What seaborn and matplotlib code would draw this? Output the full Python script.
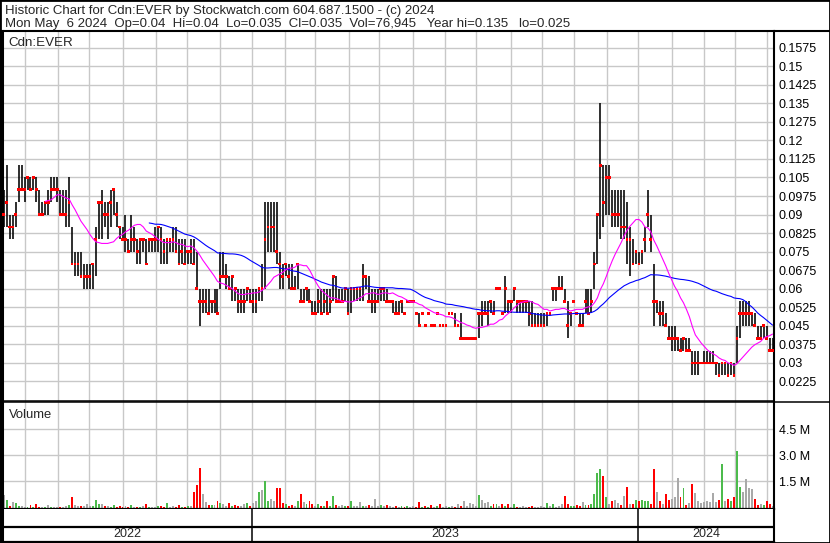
import numpy as np
import pandas as pd
import matplotlib
matplotlib.use('Agg')
import matplotlib.pyplot as plt
from matplotlib.lines import Line2D
import seaborn as sns

# one bar for every second trading day, May 2022 -> May 6 2024
high = [0.10, 0.11, 0.09, 0.09, 0.095, 0.11, 0.11, 0.105, 0.105, 0.105,
        0.105, 0.105, 0.10, 0.095, 0.095, 0.10, 0.105, 0.105, 0.105, 0.10,
        0.10, 0.10, 0.105, 0.085, 0.075, 0.075, 0.075, 0.07, 0.07, 0.07,
        0.07, 0.085, 0.095, 0.10, 0.095, 0.095, 0.10, 0.10, 0.095, 0.085,
        0.085, 0.09, 0.08, 0.09, 0.085, 0.08, 0.08, 0.08, 0.08, 0.08,
        0.08, 0.085, 0.085, 0.085, 0.08, 0.08, 0.08, 0.085, 0.085, 0.08,
        0.08, 0.08, 0.075, 0.08, 0.08, 0.075, 0.06, 0.06, 0.06, 0.06,
        0.055, 0.06, 0.06, 0.075, 0.075, 0.07, 0.065, 0.065, 0.06, 0.06,
        0.06, 0.06, 0.06, 0.06, 0.06, 0.06, 0.06, 0.07, 0.095, 0.095,
        0.095, 0.095, 0.095, 0.075, 0.07, 0.07, 0.07, 0.07, 0.065, 0.07,
        0.06, 0.06, 0.06, 0.06, 0.055, 0.055, 0.06, 0.06, 0.06, 0.06,
        0.06, 0.065, 0.065, 0.06, 0.06, 0.06, 0.06, 0.06, 0.06, 0.06,
        0.06, 0.07, 0.065, 0.065, 0.06, 0.06, 0.06, 0.06, 0.06, 0.06,
        0.055, 0.055, 0.055, 0.055, 0.055, 0.05, 0.055, 0.055, 0.055, 0.05,
        0.05, 0.05, 0.045, 0.05, 0.045, 0.045, 0.05, 0.045, 0.045, 0.045,
        0.05, 0.05, 0.05, 0.045, 0.05, 0.04, 0.04, 0.04, 0.04, 0.04,
        0.05, 0.055, 0.055, 0.055, 0.055, 0.055, 0.06, 0.06, 0.05, 0.065,
        0.055, 0.055, 0.06, 0.055, 0.055, 0.055, 0.055, 0.055, 0.055, 0.05,
        0.05, 0.05, 0.05, 0.05, 0.05, 0.06, 0.06, 0.065, 0.065, 0.06,
        0.055, 0.05, 0.055, 0.05, 0.05, 0.05, 0.06, 0.06, 0.06, 0.075,
        0.09, 0.135, 0.11, 0.11, 0.11, 0.10, 0.10, 0.10, 0.10, 0.10,
        0.095, 0.085, 0.08, 0.075, 0.075, 0.075, 0.085, 0.10, 0.09, 0.07,
        0.055, 0.055, 0.055, 0.05, 0.045, 0.045, 0.045, 0.04, 0.04, 0.04,
        0.04, 0.04, 0.035, 0.035, 0.035, 0.03, 0.035, 0.035, 0.035, 0.035,
        0.03, 0.03, 0.03, 0.03, 0.03, 0.03, 0.03, 0.045, 0.055, 0.055,
        0.055, 0.055, 0.05, 0.05, 0.045, 0.045, 0.045, 0.045, 0.04, 0.04]

low = [0.085, 0.085, 0.08, 0.08, 0.085, 0.095, 0.10, 0.095, 0.10, 0.10,
       0.10, 0.095, 0.09, 0.09, 0.09, 0.09, 0.095, 0.10, 0.095, 0.09,
       0.09, 0.085, 0.085, 0.07, 0.065, 0.065, 0.065, 0.06, 0.06, 0.06,
       0.06, 0.065, 0.08, 0.08, 0.085, 0.08, 0.085, 0.09, 0.085, 0.08,
       0.08, 0.075, 0.075, 0.075, 0.075, 0.07, 0.07, 0.075, 0.07, 0.075,
       0.075, 0.075, 0.075, 0.07, 0.07, 0.07, 0.075, 0.075, 0.075, 0.07,
       0.07, 0.07, 0.07, 0.07, 0.07, 0.06, 0.045, 0.05, 0.05, 0.05,
       0.05, 0.05, 0.05, 0.06, 0.065, 0.06, 0.06, 0.055, 0.055, 0.05,
       0.05, 0.05, 0.055, 0.055, 0.05, 0.05, 0.055, 0.055, 0.06, 0.075,
       0.075, 0.075, 0.07, 0.06, 0.06, 0.065, 0.06, 0.06, 0.06, 0.06,
       0.055, 0.055, 0.055, 0.055, 0.05, 0.05, 0.05, 0.05, 0.05, 0.05,
       0.05, 0.055, 0.055, 0.055, 0.055, 0.055, 0.05, 0.05, 0.055, 0.055,
       0.055, 0.055, 0.06, 0.055, 0.05, 0.05, 0.055, 0.055, 0.055, 0.055,
       0.055, 0.05, 0.05, 0.05, 0.05, 0.05, 0.055, 0.055, 0.055, 0.05,
       0.045, 0.05, 0.045, 0.05, 0.045, 0.045, 0.05, 0.045, 0.045, 0.045,
       0.05, 0.05, 0.045, 0.045, 0.04, 0.04, 0.04, 0.04, 0.04, 0.04,
       0.04, 0.045, 0.05, 0.045, 0.05, 0.05, 0.06, 0.06, 0.05, 0.05,
       0.05, 0.05, 0.055, 0.05, 0.05, 0.05, 0.05, 0.045, 0.045, 0.045,
       0.045, 0.045, 0.045, 0.045, 0.05, 0.055, 0.055, 0.06, 0.06, 0.055,
       0.04, 0.045, 0.055, 0.05, 0.045, 0.045, 0.05, 0.05, 0.05, 0.06,
       0.07, 0.08, 0.085, 0.09, 0.09, 0.085, 0.085, 0.085, 0.08, 0.08,
       0.07, 0.065, 0.07, 0.07, 0.07, 0.07, 0.075, 0.085, 0.075, 0.045,
       0.05, 0.045, 0.045, 0.045, 0.04, 0.035, 0.035, 0.035, 0.035, 0.035,
       0.035, 0.035, 0.025, 0.025, 0.025, 0.03, 0.03, 0.03, 0.03, 0.03,
       0.025, 0.025, 0.025, 0.025, 0.025, 0.025, 0.025, 0.03, 0.04, 0.045,
       0.045, 0.045, 0.045, 0.045, 0.04, 0.04, 0.04, 0.04, 0.035, 0.035]

close = [0.09, 0.095, 0.085, 0.085, 0.09, 0.10, 0.10, 0.10, 0.105, 0.10,
         0.105, 0.10, 0.09, 0.09, 0.095, 0.095, 0.10, 0.10, 0.10, 0.09,
         0.09, 0.09, 0.095, 0.07, 0.07, 0.07, 0.065, 0.065, 0.065, 0.065,
         0.07, 0.08, 0.095, 0.095, 0.09, 0.09, 0.095, 0.10, 0.09, 0.085,
         0.08, 0.08, 0.075, 0.08, 0.08, 0.075, 0.08, 0.08, 0.07, 0.08,
         0.08, 0.08, 0.085, 0.08, 0.075, 0.08, 0.08, 0.08, 0.075, 0.07,
         0.075, 0.07, 0.075, 0.075, 0.07, 0.06, 0.055, 0.055, 0.055, 0.05,
         0.055, 0.055, 0.05, 0.065, 0.065, 0.065, 0.06, 0.065, 0.06, 0.055,
         0.055, 0.055, 0.06, 0.055, 0.055, 0.055, 0.06, 0.06, 0.08, 0.085,
         0.085, 0.085, 0.075, 0.07, 0.065, 0.07, 0.065, 0.06, 0.06, 0.07,
         0.055, 0.055, 0.06, 0.055, 0.05, 0.05, 0.055, 0.05, 0.055, 0.05,
         0.055, 0.065, 0.055, 0.055, 0.055, 0.06, 0.05, 0.06, 0.06, 0.06,
         0.06, 0.065, 0.065, 0.055, 0.055, 0.055, 0.055, 0.06, 0.06, 0.055,
         0.055, 0.055, 0.05, 0.05, 0.055, 0.05, 0.055, 0.055, 0.055, 0.05,
         0.045, 0.05, 0.045, 0.05, 0.045, 0.045, 0.05, 0.045, 0.045, 0.045,
         0.05, 0.05, 0.045, 0.045, 0.04, 0.04, 0.04, 0.04, 0.04, 0.04,
         0.05, 0.05, 0.05, 0.05, 0.055, 0.05, 0.06, 0.06, 0.05, 0.06,
         0.055, 0.055, 0.06, 0.055, 0.055, 0.055, 0.055, 0.05, 0.045, 0.045,
         0.045, 0.045, 0.045, 0.05, 0.05, 0.06, 0.06, 0.06, 0.06, 0.055,
         0.045, 0.05, 0.055, 0.05, 0.045, 0.045, 0.055, 0.05, 0.055, 0.07,
         0.09, 0.11, 0.095, 0.105, 0.105, 0.09, 0.09, 0.09, 0.085, 0.085,
         0.08, 0.08, 0.07, 0.075, 0.07, 0.075, 0.08, 0.09, 0.08, 0.055,
         0.055, 0.05, 0.05, 0.045, 0.04, 0.04, 0.04, 0.04, 0.035, 0.04,
         0.035, 0.035, 0.03, 0.03, 0.03, 0.03, 0.03, 0.03, 0.03, 0.03,
         0.03, 0.025, 0.03, 0.03, 0.025, 0.03, 0.025, 0.04, 0.05, 0.05,
         0.05, 0.05, 0.05, 0.045, 0.04, 0.04, 0.045, 0.04, 0.035, 0.035]

# volume in millions of shares
volume = [0.73, 0.42, 0.1, 0.3, 0.25, 0.1, 0.1, 0.05, 0.05, 0.15,
          0.05, 0.23, 0.05, 0.05, 0.05, 0.15, 0.05, 0.05, 0.05, 0.05,
          0.05, 0.1, 0.15, 0.6, 0.15, 0.1, 0.1, 0.1, 0.23, 0.1,
          0.1, 0.46, 0.2, 0.23, 0.1, 0.1, 0.05, 0.15, 0.05, 0.1,
          0.05, 0.1, 0.05, 0.15, 0.05, 0.05, 0.05, 0.1, 0.23, 0.05,
          0.05, 0.05, 0.1, 0.1, 0.05, 0.27, 0.05, 0.1, 0.05, 0.15,
          0.05, 0.05, 0.1, 0.1, 0.92, 1.3, 2.25, 0.8, 0.3, 0.15,
          0.15, 0.15, 0.38, 0.27, 0.23, 0.1, 0.27, 0.1, 0.15, 0.1,
          0.1, 0.23, 0.27, 0.1, 0.29, 0.35, 0.87, 1.0, 1.54, 0.38,
          0.48, 0.38, 1.1, 1.1, 0.29, 0.2, 0.1, 0.15, 0.1, 0.38,
          0.77, 0.3, 0.2, 0.35, 0.2, 0.1, 0.2, 0.1, 0.1, 0.38,
          0.1, 0.67, 0.15, 0.1, 0.15, 0.1, 0.1, 0.35, 0.1, 0.1,
          0.3, 0.1, 0.1, 0.15, 0.1, 0.5, 0.1, 0.15, 0.1, 0.15,
          0.1, 0.05, 0.1, 0.05, 0.1, 0.05, 0.1, 0.05, 0.1, 0.05,
          0.3, 0.05, 0.1, 0.05, 0.15, 0.05, 0.1, 0.2, 0.05, 0.1,
          0.05, 0.1, 0.05, 0.2, 0.1, 0.35, 0.1, 0.25, 0.2, 0.1,
          0.7, 0.42, 0.27, 0.31, 0.1, 0.23, 0.2, 0.1, 0.2, 0.1,
          0.2, 0.05, 0.2, 0.05, 0.05, 0.1, 0.05, 0.05, 0.1, 0.05,
          0.05, 0.1, 0.05, 0.27, 0.1, 0.2, 0.05, 0.1, 0.2, 0.67,
          0.2, 0.1, 0.1, 0.15, 0.1, 0.31, 0.15, 0.15, 0.2, 0.8,
          2.0, 2.2, 1.83, 0.6, 0.23, 0.38, 0.42, 0.27, 0.15, 0.67,
          1.2, 0.23, 0.23, 0.42, 0.35, 0.42, 0.35, 0.35, 0.23, 2.2,
          0.92, 0.38, 0.2, 0.8, 0.42, 0.48, 0.62, 1.7, 0.58, 1.1,
          0.15, 0.27, 1.38, 0.85, 0.38, 0.27, 0.3, 0.35, 0.3, 0.85,
          0.3, 0.42, 2.5, 0.38, 0.5, 0.38, 0.58, 3.27, 1.2, 0.92,
          1.63, 1.15, 1.06, 0.48, 0.15, 0.2, 0.15, 0.35, 0.2, 0.08]

price_ticks = ['0.0225', '0.03', '0.0375', '0.045', '0.0525', '0.06', '0.0675',
               '0.075', '0.0825', '0.09', '0.0975', '0.105', '0.1125', '0.12',
               '0.1275', '0.135', '0.1425', '0.15', '0.1575']
vol_ticks = [1.5, 3.0, 4.5]
vol_labels = ['1.5 M', '3.0 M', '4.5 M']
years = ['2022', '2023', '2024']
header1 = 'Historic Chart for Cdn:EVER by Stockwatch.com 604.687.1500 - (c) 2024'
header2 = ('Mon May  6 2024  Op=0.04  Hi=0.04  Lo=0.035  Cl=0.035  Vol=76,945   '
           'Year hi=0.135   lo=0.025')

sns.set_style('white')
plt.rcParams['font.family'] = ['Liberation Sans', 'DejaVu Sans']
plt.rcParams['font.size'] = 9

# trading-day positions
days = pd.bdate_range('2022-05-10', '2024-05-06')
df = pd.DataFrame({'pos': np.arange(len(days))[1::2], 'high': high, 'low': low,
                   'close': close, 'vol': volume})
df['ma_short'] = df['close'].rolling(15).mean()
df['ma_long'] = df['close'].rolling(50).mean()
chg = df['close'].diff().fillna(0)
df['vcol'] = np.where(chg > 0, '#4cbb4c', np.where(chg < 0, '#ff0000', '#a9a9a9'))

months = np.asarray(days.month)
yrs = np.asarray(days.year)
month_lines = np.flatnonzero(months[1:] != months[:-1]) + 0.5
year_lines = np.flatnonzero(yrs[1:] != yrs[:-1]) + 0.5

W, H = 830, 543
XLIM = (-0.2, 520.0)
GRID = '#c8c8c8'


def box(l, t, r, b):
    return [l / W, 1 - b / H, (r - l) / W, (b - t) / H]


fig = plt.figure(figsize=(W / 100, H / 100), dpi=100)
fig.patch.set_facecolor('white')
ax = fig.add_axes(box(2, 31, 774, 401))
axv = fig.add_axes(box(2, 402, 774, 509))
axd = fig.add_axes(box(2, 509, 774, 542))

# price panel
ax.vlines(df['pos'], df['low'], df['high'], color='black', lw=1.15, zorder=2)
sns.scatterplot(data=df, x='pos', y='close', marker='s', s=4, color='red',
                edgecolor='none', linewidth=0, ax=ax, legend=False, zorder=3)
sns.lineplot(data=df, x='pos', y='ma_long', color='#0000ff', lw=0.8, ax=ax, zorder=4)
sns.lineplot(data=df, x='pos', y='ma_short', color='#ff00ff', lw=0.8, ax=ax, zorder=4)
ax.set_xlim(XLIM)
ax.set_ylim(0.0146, 0.16425)
ax.set_yticks([float(t) for t in price_ticks])
ax.set_yticklabels(price_ticks)
ax.yaxis.tick_right()
ax.set_xticks(month_lines)
ax.set_xticklabels([])
ax.tick_params(length=0, pad=3.5, labelsize=9, labelcolor='black')
ax.grid(True, color=GRID, lw=1)
ax.set_axisbelow(True)
ax.set_xlabel('')
ax.set_ylabel('')
ax.text(6 / 772, 1 - 15 / 370, 'Cdn:EVER', transform=ax.transAxes, ha='left',
        va='baseline', fontsize=9.6)

# volume panel
axv.bar(df['pos'], df['vol'], width=1.3, color=df['vcol'], linewidth=0, zorder=2)
axv.set_xlim(XLIM)
axv.set_ylim(-0.08, 6.05)
axv.set_yticks(vol_ticks)
axv.set_yticklabels(vol_labels)
axv.yaxis.tick_right()
axv.set_xticks(month_lines)
axv.set_xticklabels([])
axv.tick_params(length=0, pad=3.5, labelsize=9, labelcolor='black')
axv.grid(True, color=GRID, lw=1)
axv.set_axisbelow(True)
axv.text(7 / 772, 1 - 16 / 107, 'Volume', transform=axv.transAxes, ha='left',
         va='baseline', fontsize=9.4)

# date band
axd.set_xlim(XLIM)
axd.set_ylim(0, 33)
axd.set_xticks([])
axd.set_yticks([])
axd.axhline(15.5, color='black', lw=1.6)
axd.vlines(year_lines, 0, 33, color='black', lw=1.1)
edges = [XLIM[0]] + list(year_lines) + [XLIM[1]]
for k, yr in enumerate(years):
    axd.text((edges[k] + edges[k + 1]) / 2, 8, yr, ha='center', va='center', fontsize=9)

for a in (ax, axv, axd):
    for s in a.spines.values():
        s.set_color('black')
    a.spines['left'].set_linewidth(2.2)
    a.spines['right'].set_linewidth(1.5)
ax.spines['top'].set_linewidth(1.5)
ax.spines['bottom'].set_linewidth(1.1)
axv.spines['top'].set_linewidth(1.1)
axv.spines['bottom'].set_linewidth(1.6)
axd.spines['top'].set_visible(False)
axd.spines['bottom'].set_linewidth(1.6)

# header and frame
fig.text(5 / W, 1 - 14 / H, header1, ha='left', va='baseline', fontsize=9.55)
fig.text(5 / W, 1 - 27 / H, header2, ha='left', va='baseline', fontsize=9.55)
for yy, lw in ((31, 1.5), (401.5, 1.1)):
    fig.add_artist(Line2D([774 / W, 1], [1 - yy / H] * 2, color='black', lw=lw))
fig.add_artist(plt.Rectangle((0, 0), 1, 1, transform=fig.transFigure, fill=False,
                             ec='black', lw=2))

fig.savefig('out.png', dpi=100, facecolor='white')
